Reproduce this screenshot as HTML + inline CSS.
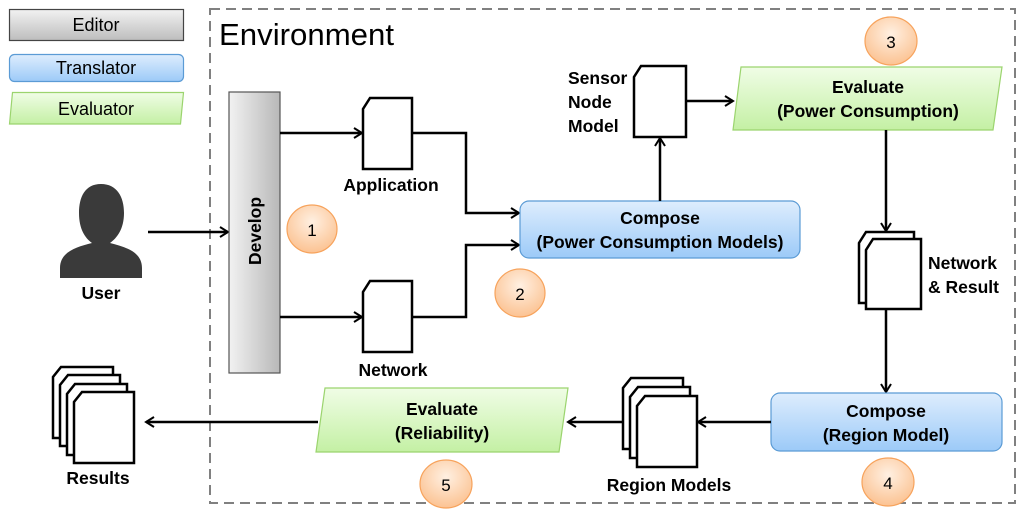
<!DOCTYPE html>
<html><head><meta charset="utf-8"><style>
html,body{margin:0;padding:0;background:#fff}
svg{display:block}
text{font-family:"Liberation Sans",sans-serif;fill:#000}
.b{font-weight:bold;font-size:17.5px}
</style></head><body>
<svg width="1024" height="516" viewBox="0 0 1024 516" xmlns="http://www.w3.org/2000/svg">
<defs>
<linearGradient id="gray" x1="0" y1="0" x2="1" y2="0"><stop offset="0" stop-color="#f2f2f2"/><stop offset="1" stop-color="#b8b8b8"/></linearGradient>
<linearGradient id="grayv" x1="0" y1="0" x2="0" y2="1"><stop offset="0" stop-color="#f2f2f2"/><stop offset="1" stop-color="#bdbdbd"/></linearGradient>
<linearGradient id="blue" x1="0" y1="0" x2="0" y2="1"><stop offset="0" stop-color="#deedfd"/><stop offset="1" stop-color="#9ccaf8"/></linearGradient>
<linearGradient id="green" x1="0" y1="0" x2="0" y2="1"><stop offset="0" stop-color="#f0fde6"/><stop offset="1" stop-color="#c4f0a4"/></linearGradient>
<radialGradient id="org" cx="0.5" cy="0.35" r="0.7"><stop offset="0" stop-color="#fff0e2"/><stop offset="1" stop-color="#fbbf8c"/></radialGradient>
<marker id="ar" markerWidth="12" markerHeight="12" refX="10" refY="6" orient="auto" markerUnits="userSpaceOnUse"><path d="M2,1 L10,6 L2,11" fill="none" stroke="#000" stroke-width="2"/></marker>
<symbol id="doc" overflow="visible"><path d="M8,0 H60 V71 H0 V10 Z" fill="#fff" stroke="#000" stroke-width="2.5"/></symbol>
</defs>

<rect x="9.5" y="9.5" width="174" height="31" fill="url(#grayv)" stroke="#444" stroke-width="1.2"/>
<text x="96" y="31" text-anchor="middle" font-size="18">Editor</text>
<rect x="9.5" y="54.5" width="174" height="27" rx="5" fill="url(#blue)" stroke="#5b9bd5" stroke-width="1.2"/>
<text x="96" y="74" text-anchor="middle" font-size="18">Translator</text>
<path d="M12.5,92.5 H183.5 L180.5,124 H9.5 Z" fill="url(#green)" stroke="#9bd46e" stroke-width="1.2"/>
<text x="96" y="115" text-anchor="middle" font-size="18">Evaluator</text>

<rect x="210" y="9" width="805" height="494" fill="none" stroke="#808080" stroke-width="2" stroke-dasharray="10,6"/>
<text x="219" y="45" font-size="31" textLength="175" lengthAdjust="spacingAndGlyphs">Environment</text>

<path d="M101,184 C85,184 79,197 79,213 C79,229 85,238 92,243 C76,247 60,252 60,268 L60,278 H142 L142,268 C142,252 126,247 110,243 C117,238 124,229 124,213 C124,197 117,184 101,184 Z" fill="#3a3a3a"/>
<text x="101" y="299" text-anchor="middle" class="b">User</text>
<line x1="148" y1="232" x2="228" y2="232" stroke="#000" stroke-width="2.5" marker-end="url(#ar)"/>

<rect x="229" y="92" width="51" height="281" fill="url(#gray)" stroke="#555" stroke-width="1.2"/>
<text transform="translate(261,231) rotate(-90)" text-anchor="middle" class="b">Develop</text>

<ellipse cx="312" cy="229" rx="25" ry="24" fill="url(#org)" stroke="#f7a35c" stroke-width="1.2"/>
<text x="312" y="236" text-anchor="middle" font-size="17">1</text>
<ellipse cx="520" cy="293" rx="25" ry="24" fill="url(#org)" stroke="#f7a35c" stroke-width="1.2"/>
<text x="520" y="300" text-anchor="middle" font-size="17">2</text>
<ellipse cx="891" cy="41" rx="26" ry="24" fill="url(#org)" stroke="#f7a35c" stroke-width="1.2"/>
<text x="891" y="48" text-anchor="middle" font-size="17">3</text>
<ellipse cx="888" cy="482" rx="26" ry="24" fill="url(#org)" stroke="#f7a35c" stroke-width="1.2"/>
<text x="888" y="489" text-anchor="middle" font-size="17">4</text>
<ellipse cx="446" cy="484" rx="26" ry="24" fill="url(#org)" stroke="#f7a35c" stroke-width="1.2"/>
<text x="446" y="491" text-anchor="middle" font-size="17">5</text>

<line x1="280" y1="133" x2="362" y2="133" stroke="#000" stroke-width="2.5" marker-end="url(#ar)"/>
<line x1="280" y1="317" x2="362" y2="317" stroke="#000" stroke-width="2.5" marker-end="url(#ar)"/>
<path d="M370,98 H412 V169 H363 V109 Z" fill="#fff" stroke="#000" stroke-width="2.5"/>
<path d="M370,281 H412 V352 H363 V292 Z" fill="#fff" stroke="#000" stroke-width="2.5"/>
<text x="391" y="191" text-anchor="middle" class="b">Application</text>
<text x="393" y="376" text-anchor="middle" class="b">Network</text>
<polyline points="412,133 466,133 466,213 519,213" fill="none" stroke="#000" stroke-width="2.5" marker-end="url(#ar)"/>
<polyline points="412,317 466,317 466,245 519,245" fill="none" stroke="#000" stroke-width="2.5" marker-end="url(#ar)"/>

<rect x="520" y="201" width="280" height="57" rx="9" fill="url(#blue)" stroke="#5b9bd5" stroke-width="1.2"/>
<text x="660" y="224" text-anchor="middle" class="b">Compose</text>
<text x="660" y="248" text-anchor="middle" class="b">(Power Consumption Models)</text>

<line x1="660" y1="201" x2="660" y2="138" stroke="#000" stroke-width="2.5" marker-end="url(#ar)"/>
<path d="M641,66 H686 V137 H634 V77 Z" fill="#fff" stroke="#000" stroke-width="2.5"/>
<text x="568" y="84" class="b">Sensor</text>
<text x="568" y="108" class="b">Node</text>
<text x="568" y="132" class="b">Model</text>
<line x1="686" y1="101" x2="733" y2="101" stroke="#000" stroke-width="2.5" marker-end="url(#ar)"/>

<path d="M741,67 H1002 L993,130 H733 Z" fill="url(#green)" stroke="#9bd46e" stroke-width="1.2"/>
<text x="868" y="93" text-anchor="middle" class="b">Evaluate</text>
<text x="868" y="117" text-anchor="middle" class="b">(Power Consumption)</text>
<line x1="886" y1="130" x2="886" y2="231" stroke="#000" stroke-width="2.5" marker-end="url(#ar)"/>

<path d="M866,232 H914 V303 H859 V243 Z" fill="#fff" stroke="#000" stroke-width="2.5"/>
<path d="M873,239 H921 V309 H866 V250 Z" fill="#fff" stroke="#000" stroke-width="2.5"/>
<text x="928" y="269" class="b">Network</text>
<text x="928" y="293" class="b">&amp; Result</text>
<line x1="886" y1="309" x2="886" y2="392" stroke="#000" stroke-width="2.5" marker-end="url(#ar)"/>

<rect x="771" y="393" width="231" height="58" rx="9" fill="url(#blue)" stroke="#5b9bd5" stroke-width="1.2"/>
<text x="886" y="417" text-anchor="middle" class="b">Compose</text>
<text x="886" y="441" text-anchor="middle" class="b">(Region Model)</text>
<line x1="771" y1="422" x2="698" y2="422" stroke="#000" stroke-width="2.5" marker-end="url(#ar)"/>

<use href="#doc" x="623" y="378"/>
<use href="#doc" x="630" y="387"/>
<use href="#doc" x="637" y="396"/>
<text x="669" y="491" text-anchor="middle" class="b">Region Models</text>
<line x1="623" y1="422" x2="568" y2="422" stroke="#000" stroke-width="2.5" marker-end="url(#ar)"/>

<path d="M325,388 H568 L559,452 H316 Z" fill="url(#green)" stroke="#9bd46e" stroke-width="1.2"/>
<text x="442" y="415" text-anchor="middle" class="b">Evaluate</text>
<text x="442" y="439" text-anchor="middle" class="b">(Reliability)</text>
<line x1="318" y1="422" x2="146" y2="422" stroke="#000" stroke-width="2.5" marker-end="url(#ar)"/>

<use href="#doc" x="53" y="367"/>
<use href="#doc" x="60" y="375"/>
<use href="#doc" x="67" y="384"/>
<use href="#doc" x="74" y="392"/>
<text x="98" y="484" text-anchor="middle" class="b">Results</text>
</svg>
</body></html>
